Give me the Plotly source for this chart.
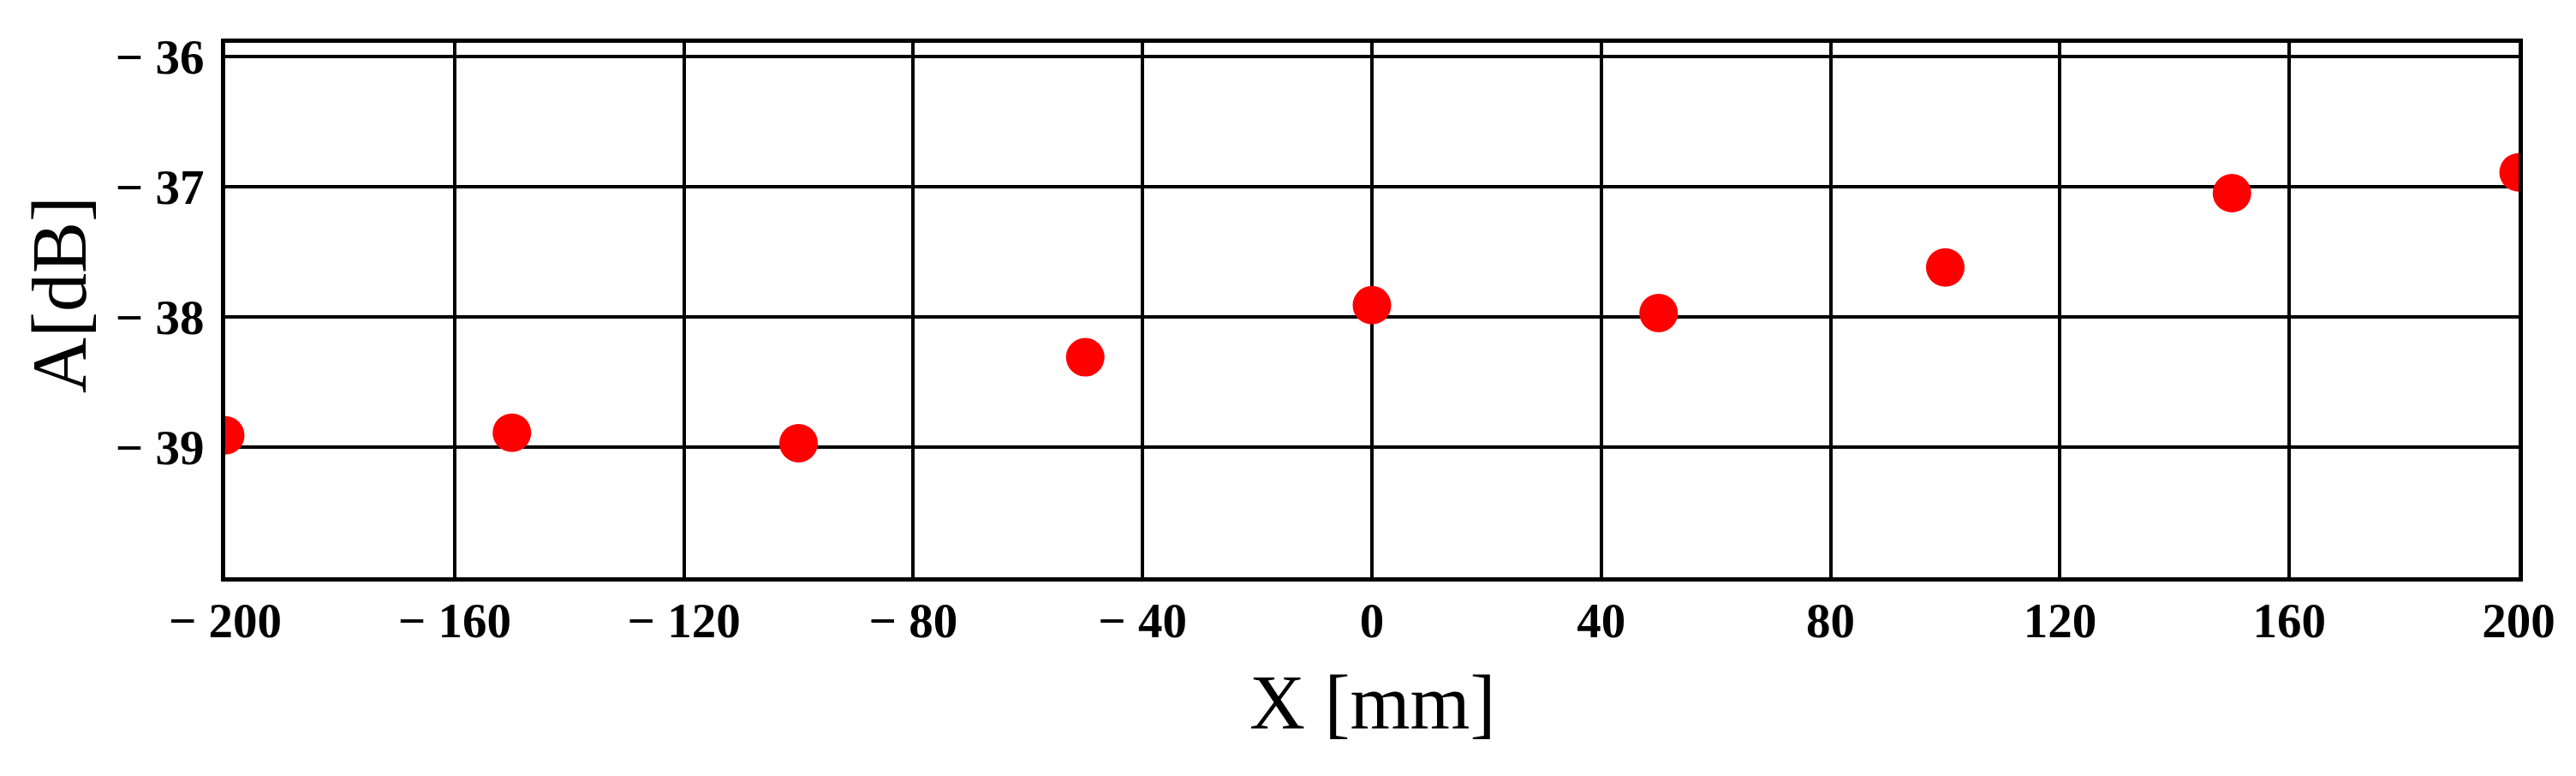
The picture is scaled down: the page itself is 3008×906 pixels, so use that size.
import plotly.graph_objects as go

x_mm = [-200, -150, -100, -50, 0, 50, 100, 150, 200]
a_db = [-38.91, -38.89, -38.97, -38.31, -37.91, -37.97, -37.62, -37.05, -36.89]

x_ticks = [-200, -160, -120, -80, -40, 0, 40, 80, 120, 160, 200]
y_ticks = [-36, -37, -38, -39]


def lab(v):
    return ("\u2212 " + str(abs(v))) if v < 0 else str(v)


fig = go.Figure()
fig.add_trace(go.Scatter(
    x=x_mm, y=a_db, mode="markers",
    marker=dict(color="#ff0000", size=45, line=dict(width=0)),
    cliponaxis=True, showlegend=False,
))

tickfont = dict(family="Liberation Serif", size=57, color="black", weight="bold")

fig.update_layout(
    width=3008, height=906,
    margin=dict(l=255, r=75, t=42, b=240),
    paper_bgcolor="white", plot_bgcolor="white",
    xaxis=dict(
        range=[-200, 200], tickvals=x_ticks, ticktext=[lab(v) for v in x_ticks],
        showgrid=True, gridcolor="black", gridwidth=4,
        showline=True, linecolor="black", linewidth=5, mirror=True,
        zeroline=False, ticks="", tickfont=tickfont, ticklabelstandoff=-3,
    ),
    yaxis=dict(
        range=[-40, -35.895], tickvals=y_ticks, ticktext=[lab(v) for v in y_ticks],
        showgrid=True, gridcolor="black", gridwidth=4,
        showline=True, linecolor="black", linewidth=5, mirror=True,
        zeroline=False, ticks="", tickfont=tickfont, ticklabelstandoff=8,
    ),
    annotations=[
        dict(text="X [mm]", xref="paper", yref="paper", x=0.5, y=0,
             xanchor="center", yanchor="middle", yshift=-146, showarrow=False,
             font=dict(family="Liberation Serif", size=90, color="black")),
        dict(text="A[dB]", xref="paper", yref="paper", x=0, y=0.5,
             xanchor="center", yanchor="middle", xshift=-194, yshift=18,
             textangle=-90, showarrow=False,
             font=dict(family="Liberation Serif", size=90, color="black")),
    ],
)

fig.write_html("out.html")
